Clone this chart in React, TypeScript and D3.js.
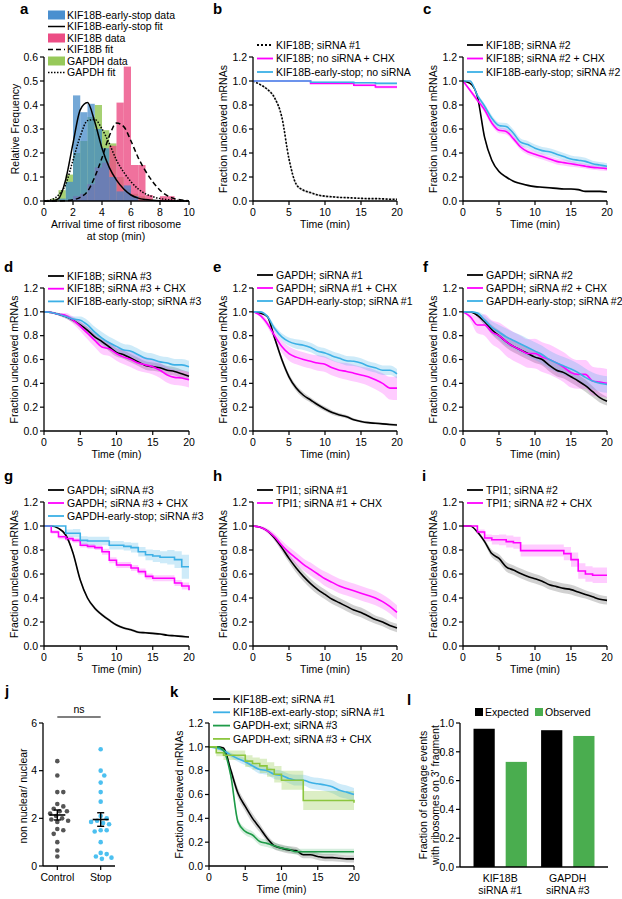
import React from 'react';
import * as d3 from 'd3';

const FONT = '"Liberation Sans", Arial, Helvetica, sans-serif';
const FS = 10.5;
const MAG = '#ff00ff';
const CY = '#3cb0e6';
const DKG = '#1e9b48';
const LTG = '#8cc63f';
const GRAYBAND = '#9a9a9a';

// ---------- panel a (histograms, bin width 0.5 min) ----------
const aBinStart = [0.5, 1.0, 1.5, 2.0, 2.5, 3.0, 3.5, 4.0, 4.5, 5.0, 5.5, 6.0, 6.5, 7.0, 7.5, 8.0, 8.5, 9.0];
const aEarlyStop = [0, 0.01, 0.08, 0.44, 0.37, 0.405, 0.3, 0.22, 0.1, 0.04, 0.065, 0.02, 0, 0, 0, 0, 0, 0];
const aGapdh = [0.01, 0.045, 0.11, 0.2, 0.25, 0.35, 0.4, 0.295, 0.24, 0.1, 0.05, 0.03, 0.02, 0.01, 0, 0, 0, 0];
const aKif = [0, 0, 0, 0.02, 0.03, 0.07, 0.14, 0.16, 0.23, 0.41, 0.56, 0.15, 0.15, 0.025, 0, 0.02, 0.02, 0];
const aFitT = [0, 0.5, 1, 1.5, 2, 2.5, 3, 3.5, 4, 4.5, 5, 5.5, 6, 6.5, 7, 7.5, 8, 8.5, 9, 9.5, 10];
const aFitEarly = [0, 0, 0.01, 0.09, 0.24, 0.38, 0.41, 0.33, 0.22, 0.14, 0.087, 0.05, 0.025, 0.012, 0.006, 0.003, 0.001, 0, 0, 0, 0];
const aFitKif = [0, 0, 0, 0.001, 0.005, 0.015, 0.04, 0.1, 0.18, 0.27, 0.325, 0.31, 0.25, 0.18, 0.125, 0.08, 0.045, 0.022, 0.01, 0.004, 0.001];
const aFitGapdh = [0, 0.005, 0.025, 0.07, 0.17, 0.27, 0.335, 0.34, 0.3, 0.24, 0.17, 0.12, 0.08, 0.05, 0.03, 0.018, 0.01, 0.006, 0.003, 0.001, 0];

// ---------- time grid for survival curves (min) ----------
const T = [0, 1, 2, 3, 4, 5, 6, 7, 8, 9, 10, 11, 12, 13, 14, 15, 16, 17, 18, 19, 20];

// b
const bKif1 = [1.0, 0.97, 0.93, 0.86, 0.7, 0.35, 0.14, 0.09, 0.07, 0.05, 0.04, 0.035, 0.03, 0.028, 0.025, 0.022, 0.02, 0.02, 0.018, 0.015, 0.015];
const bKif1Ci = [0, 0.005, 0.01, 0.015, 0.02, 0.02, 0.015, 0.01, 0.01, 0.008, 0.008, 0.006, 0.006, 0.006, 0.005, 0.005, 0.005, 0.005, 0.005, 0.005, 0.005];
const bChx = [1, 1, 1, 1, 1, 1, 1, 1, 0.98, 0.98, 0.98, 0.98, 0.98, 0.98, 0.965, 0.965, 0.965, 0.95, 0.95, 0.95, 0.95];
const bChxCi = [0, 0, 0, 0, 0, 0, 0, 0, 0.006, 0.006, 0.006, 0.006, 0.006, 0.006, 0.01, 0.01, 0.01, 0.012, 0.012, 0.012, 0.012];
const bStop = [1, 1, 1, 1, 1, 1, 1, 1, 0.99, 0.99, 0.99, 0.99, 0.99, 0.99, 0.985, 0.985, 0.985, 0.98, 0.98, 0.98, 0.98];
const bStopCi = [0, 0, 0, 0, 0, 0, 0, 0, 0.005, 0.005, 0.005, 0.005, 0.005, 0.005, 0.007, 0.007, 0.007, 0.008, 0.008, 0.008, 0.008];

// c
const cKif2 = [1.0, 0.98, 0.87, 0.53, 0.34, 0.245, 0.2, 0.165, 0.145, 0.13, 0.12, 0.115, 0.11, 0.105, 0.1, 0.1, 0.095, 0.08, 0.08, 0.08, 0.075];
const cKif2Ci = [0, 0.005, 0.01, 0.015, 0.012, 0.01, 0.01, 0.008, 0.008, 0.008, 0.008, 0.008, 0.008, 0.008, 0.008, 0.008, 0.008, 0.008, 0.008, 0.008, 0.008];
const cChx = [1.0, 0.92, 0.84, 0.76, 0.65, 0.59, 0.58, 0.52, 0.45, 0.41, 0.39, 0.37, 0.35, 0.33, 0.32, 0.31, 0.3, 0.29, 0.28, 0.275, 0.27];
const cChxCi = [0, 0.015, 0.02, 0.025, 0.025, 0.025, 0.025, 0.025, 0.025, 0.025, 0.025, 0.025, 0.025, 0.025, 0.025, 0.025, 0.02, 0.02, 0.02, 0.02, 0.02];
const cStop = [1.0, 1.0, 0.88, 0.79, 0.69, 0.63, 0.62, 0.565, 0.49, 0.47, 0.44, 0.42, 0.41, 0.39, 0.37, 0.35, 0.34, 0.33, 0.31, 0.3, 0.29];
const cStopCi = [0, 0, 0.015, 0.02, 0.025, 0.025, 0.03, 0.03, 0.03, 0.03, 0.03, 0.03, 0.03, 0.03, 0.03, 0.03, 0.03, 0.03, 0.025, 0.025, 0.025];

// d
const dKif3 = [1.0, 0.995, 0.98, 0.96, 0.93, 0.89, 0.845, 0.79, 0.75, 0.705, 0.66, 0.64, 0.61, 0.58, 0.55, 0.54, 0.53, 0.51, 0.5, 0.48, 0.46];
const dKif3Ci = [0, 0.005, 0.01, 0.015, 0.02, 0.025, 0.03, 0.03, 0.03, 0.035, 0.035, 0.035, 0.035, 0.035, 0.035, 0.035, 0.035, 0.035, 0.035, 0.035, 0.035];
const dChx = [1.0, 0.995, 0.98, 0.97, 0.93, 0.88, 0.82, 0.76, 0.705, 0.69, 0.65, 0.62, 0.6, 0.57, 0.555, 0.54, 0.51, 0.47, 0.45, 0.445, 0.43];
const dChxCi = [0, 0.005, 0.01, 0.02, 0.03, 0.04, 0.05, 0.055, 0.06, 0.06, 0.06, 0.06, 0.065, 0.065, 0.065, 0.065, 0.065, 0.065, 0.065, 0.065, 0.065];
const dStop = [1.0, 0.995, 0.98, 0.96, 0.94, 0.93, 0.89, 0.83, 0.78, 0.74, 0.71, 0.68, 0.67, 0.64, 0.61, 0.6, 0.58, 0.57, 0.555, 0.555, 0.54];
const dStopCi = [0, 0.005, 0.01, 0.015, 0.02, 0.03, 0.04, 0.045, 0.05, 0.05, 0.05, 0.05, 0.05, 0.05, 0.05, 0.05, 0.05, 0.05, 0.05, 0.05, 0.05];

// e
const eGap1 = [1.0, 0.99, 0.96, 0.78, 0.6, 0.455, 0.36, 0.3, 0.26, 0.22, 0.185, 0.155, 0.135, 0.12, 0.095, 0.08, 0.07, 0.065, 0.06, 0.055, 0.05];
const eGap1Ci = [0, 0.005, 0.01, 0.02, 0.025, 0.025, 0.025, 0.025, 0.022, 0.02, 0.02, 0.018, 0.016, 0.015, 0.012, 0.01, 0.01, 0.01, 0.01, 0.01, 0.01];
const eChx = [1.0, 0.97, 0.9, 0.8, 0.71, 0.65, 0.62, 0.6, 0.585, 0.57, 0.56, 0.53, 0.51, 0.5, 0.485, 0.47, 0.455, 0.43, 0.4, 0.36, 0.36];
const eChxCi = [0, 0.015, 0.03, 0.04, 0.05, 0.06, 0.06, 0.06, 0.06, 0.065, 0.065, 0.065, 0.065, 0.07, 0.07, 0.07, 0.075, 0.08, 0.085, 0.095, 0.1];
const eStop = [1.0, 1.0, 0.96, 0.86, 0.79, 0.75, 0.73, 0.72, 0.7, 0.67, 0.655, 0.63, 0.61, 0.59, 0.585, 0.57, 0.545, 0.53, 0.51, 0.51, 0.48];
const eStopCi = [0, 0, 0.015, 0.025, 0.03, 0.035, 0.04, 0.04, 0.04, 0.04, 0.04, 0.04, 0.04, 0.04, 0.04, 0.04, 0.04, 0.04, 0.04, 0.04, 0.04];

// f
const fGap2 = [1.0, 1.0, 0.97, 0.917, 0.85, 0.8, 0.75, 0.71, 0.68, 0.65, 0.62, 0.6, 0.55, 0.51, 0.49, 0.455, 0.42, 0.38, 0.33, 0.28, 0.25];
const fGap2Ci = [0, 0, 0.015, 0.03, 0.04, 0.045, 0.05, 0.05, 0.05, 0.05, 0.05, 0.05, 0.05, 0.05, 0.05, 0.05, 0.05, 0.05, 0.045, 0.04, 0.035];
const fChx = [1.0, 0.96, 0.89, 0.89, 0.83, 0.8, 0.75, 0.71, 0.68, 0.65, 0.65, 0.62, 0.6, 0.57, 0.535, 0.49, 0.475, 0.475, 0.42, 0.41, 0.4];
const fChxCi = [0, 0.03, 0.07, 0.09, 0.1, 0.11, 0.12, 0.12, 0.12, 0.12, 0.125, 0.125, 0.125, 0.125, 0.125, 0.125, 0.12, 0.12, 0.12, 0.12, 0.12];
const fStop = [1.0, 1.0, 0.99, 0.93, 0.87, 0.83, 0.79, 0.76, 0.73, 0.7, 0.67, 0.64, 0.6, 0.57, 0.545, 0.52, 0.49, 0.45, 0.42, 0.4, 0.39];
const fStopCi = [0, 0, 0.02, 0.04, 0.05, 0.06, 0.07, 0.07, 0.075, 0.075, 0.075, 0.075, 0.075, 0.075, 0.075, 0.075, 0.075, 0.075, 0.07, 0.07, 0.07];

// g
const gGap3 = [1.0, 1.0, 0.98, 0.925, 0.775, 0.55, 0.4, 0.315, 0.26, 0.215, 0.175, 0.15, 0.135, 0.115, 0.11, 0.105, 0.1, 0.09, 0.085, 0.08, 0.075];
const gGap3Ci = [0, 0, 0.005, 0.01, 0.015, 0.015, 0.015, 0.015, 0.012, 0.012, 0.01, 0.01, 0.01, 0.01, 0.008, 0.008, 0.008, 0.008, 0.008, 0.008, 0.008];
const gChx = [1.0, 0.95, 0.91, 0.895, 0.88, 0.84, 0.83, 0.82, 0.785, 0.715, 0.675, 0.675, 0.65, 0.62, 0.58, 0.565, 0.565, 0.565, 0.525, 0.5, 0.465];
const gChxCi = [0, 0.015, 0.02, 0.02, 0.02, 0.02, 0.02, 0.02, 0.025, 0.025, 0.025, 0.025, 0.025, 0.025, 0.025, 0.025, 0.025, 0.025, 0.025, 0.03, 0.03];
const gStop = [1.0, 1.0, 1.0, 0.94, 0.94, 0.88, 0.875, 0.875, 0.875, 0.84, 0.84, 0.83, 0.82, 0.785, 0.76, 0.75, 0.74, 0.74, 0.72, 0.66, 0.66];
const gStopCi = [0, 0, 0, 0.03, 0.035, 0.035, 0.035, 0.035, 0.035, 0.035, 0.035, 0.035, 0.04, 0.04, 0.045, 0.05, 0.05, 0.06, 0.07, 0.1, 0.1];

// h
const hTpi1 = [1.0, 0.99, 0.96, 0.9, 0.82, 0.73, 0.65, 0.58, 0.52, 0.47, 0.43, 0.39, 0.36, 0.33, 0.3, 0.28, 0.25, 0.22, 0.2, 0.17, 0.15];
const hTpi1Ci = [0, 0.005, 0.01, 0.02, 0.03, 0.035, 0.04, 0.04, 0.04, 0.04, 0.04, 0.04, 0.04, 0.04, 0.04, 0.04, 0.04, 0.035, 0.035, 0.035, 0.035];
const hChx = [1.0, 0.99, 0.96, 0.91, 0.84, 0.78, 0.73, 0.68, 0.64, 0.6, 0.56, 0.53, 0.5, 0.48, 0.46, 0.44, 0.42, 0.4, 0.37, 0.33, 0.28];
const hChxCi = [0, 0.01, 0.02, 0.03, 0.04, 0.045, 0.05, 0.05, 0.055, 0.055, 0.06, 0.06, 0.06, 0.06, 0.06, 0.06, 0.06, 0.06, 0.06, 0.06, 0.06];

// i
const iTpi2 = [1.0, 1.0, 0.95, 0.87, 0.77, 0.73, 0.66, 0.633, 0.605, 0.58, 0.56, 0.54, 0.51, 0.495, 0.48, 0.47, 0.45, 0.43, 0.41, 0.39, 0.38];
const iTpi2Ci = [0, 0, 0.01, 0.02, 0.03, 0.035, 0.04, 0.04, 0.04, 0.04, 0.04, 0.04, 0.04, 0.04, 0.04, 0.04, 0.04, 0.035, 0.035, 0.035, 0.035];
const iChx = [1.0, 1.0, 0.95, 0.9, 0.885, 0.885, 0.87, 0.86, 0.795, 0.795, 0.795, 0.795, 0.795, 0.795, 0.77, 0.72, 0.625, 0.6, 0.59, 0.59, 0.59];
const iChxCi = [0, 0, 0.02, 0.03, 0.04, 0.045, 0.05, 0.05, 0.05, 0.05, 0.05, 0.05, 0.05, 0.05, 0.055, 0.06, 0.065, 0.065, 0.065, 0.065, 0.065];

// k
const kKifExt = [1.0, 1.0, 0.99, 0.805, 0.61, 0.5, 0.4, 0.32, 0.235, 0.17, 0.15, 0.135, 0.13, 0.095, 0.095, 0.08, 0.07, 0.07, 0.065, 0.06, 0.06];
const kKifExtCi = [0, 0, 0.01, 0.03, 0.04, 0.04, 0.04, 0.035, 0.03, 0.03, 0.03, 0.03, 0.03, 0.03, 0.03, 0.03, 0.03, 0.03, 0.03, 0.03, 0.03];
const kKifStop = [1.0, 0.99, 0.97, 0.93, 0.9, 0.875, 0.84, 0.81, 0.8, 0.77, 0.76, 0.735, 0.72, 0.72, 0.7, 0.69, 0.68, 0.665, 0.635, 0.62, 0.6];
const kKifStopCi = [0, 0.01, 0.015, 0.02, 0.025, 0.03, 0.03, 0.035, 0.035, 0.04, 0.04, 0.04, 0.045, 0.045, 0.05, 0.05, 0.05, 0.055, 0.055, 0.055, 0.055];
const kGapExt = [1.0, 1.0, 0.97, 0.76, 0.37, 0.29, 0.26, 0.205, 0.19, 0.17, 0.15, 0.14, 0.12, 0.12, 0.12, 0.12, 0.12, 0.12, 0.12, 0.12, 0.12];
const kGapExtCi = [0, 0, 0.01, 0.03, 0.03, 0.03, 0.03, 0.03, 0.03, 0.03, 0.025, 0.025, 0.025, 0.025, 0.025, 0.025, 0.025, 0.025, 0.025, 0.025, 0.025];
const kGapChx = [1.0, 0.95, 0.93, 0.93, 0.93, 0.88, 0.86, 0.84, 0.81, 0.77, 0.72, 0.72, 0.72, 0.55, 0.55, 0.55, 0.55, 0.55, 0.55, 0.55, 0.53];
const kGapChxCi = [0, 0.03, 0.04, 0.04, 0.04, 0.05, 0.05, 0.06, 0.06, 0.07, 0.08, 0.08, 0.08, 0.08, 0.08, 0.08, 0.08, 0.08, 0.08, 0.08, 0.08];

// j
const jCategories = ['Control', 'Stop'];
const jControl = [4.4, 3.8, 3.1, 3.1, 2.6, 2.5, 2.4, 2.3, 2.3, 2.2, 2.1, 2.0, 1.95, 1.9, 1.85, 1.55, 1.5, 1.35, 1.0, 0.65, 0.4];
const jStop = [4.9, 4.0, 3.8, 3.5, 3.1, 2.7, 2.1, 2.0, 1.9, 1.85, 1.8, 1.75, 1.5, 1.5, 1.45, 1.0, 0.55, 0.5, 0.35, 0.3, 0.4];

// l
const lGroupLine1 = ['KIF18B', 'GAPDH'];
const lGroupLine2 = ['siRNA #1', 'siRNA #3'];
const lSeries = ['Expected', 'Observed'];
const lExpected = [0.96, 0.95];
const lObserved = [0.73, 0.91];

// ---------------- helpers ----------------
type Ser = { v: number[]; ci?: number[]; color: string; band?: string; bandOp?: number; dash?: string; step?: boolean };

const txt = { fontFamily: FONT, fontSize: FS, fill: '#000' } as const;

function YAxis({ scale, x, ticks, fmt }: any) {
  const [r0, r1] = scale.range();
  return (
    <g>
      <line x1={x} x2={x} y1={r0} y2={r1} stroke="#000" strokeWidth={1.3} />
      {ticks.map((t: number) => (
        <g key={t}>
          <line x1={x - 4} x2={x} y1={scale(t)} y2={scale(t)} stroke="#000" strokeWidth={1.2} />
          <text x={x - 6} y={scale(t)} dy="0.36em" textAnchor="end" style={txt}>{fmt(t)}</text>
        </g>
      ))}
    </g>
  );
}

function XAxis({ scale, y, ticks, fmt }: any) {
  const [r0, r1] = scale.range();
  return (
    <g>
      <line x1={r0} x2={r1} y1={y} y2={y} stroke="#000" strokeWidth={1.3} />
      {ticks.map((t: number) => (
        <g key={t}>
          <line x1={scale(t)} x2={scale(t)} y1={y} y2={y + 4} stroke="#000" strokeWidth={1.2} />
          <text x={scale(t)} y={y + 14.5} textAnchor="middle" style={txt}>{fmt(t)}</text>
        </g>
      ))}
    </g>
  );
}

function Letter({ x, y, c }: any) {
  return <text x={x} y={y} style={{ fontFamily: FONT, fontSize: 15, fontWeight: 700 }}>{c}</text>;
}

function LineLegend({ x, y, gap, items, sw = 16 }: any) {
  return (
    <g>
      {items.map((it: any, i: number) => (
        <g key={i}>
          <line x1={x} x2={x + sw} y1={y + i * gap} y2={y + i * gap} stroke={it.color} strokeWidth={1.8} strokeDasharray={it.dash} />
          <text x={x + sw + 3} y={y + i * gap} dy="0.36em" style={txt}>{it.label}</text>
        </g>
      ))}
    </g>
  );
}

function KM({ x0, x1, y0, y1, series, legend, lgX, lgY, lgGap, letter, ltX, ltY, sw }: any) {
  const x = d3.scaleLinear().domain([0, 20]).range([x0, x1]);
  const y = d3.scaleLinear().domain([0, 1.2]).range([y0, y1]);
  const fmt1 = d3.format('.1f');
  return (
    <g>
      <Letter x={ltX} y={ltY} c={letter} />
      <LineLegend x={lgX} y={lgY} gap={lgGap} items={legend} sw={sw} />
      {series.map((s: Ser, i: number) => {
        if (!s.ci) return null;
        const curve = s.step ? d3.curveStepAfter : d3.curveMonotoneX;
        const area = d3.area<number>()
          .x((_, k) => x(T[k]))
          .y0((d, k) => y(Math.max(0, d - s.ci![k])))
          .y1((d, k) => y(Math.min(1.0, d + s.ci![k])))
          .curve(curve);
        return <path key={'a' + i} d={area(s.v) || ''} fill={s.band} fillOpacity={s.bandOp ?? 0.3} stroke="none" />;
      })}
      {series.map((s: Ser, i: number) => {
        const curve = s.step ? d3.curveStepAfter : d3.curveMonotoneX;
        const line = d3.line<number>().x((_, k) => x(T[k])).y((d) => y(d)).curve(curve);
        return <path key={'l' + i} d={line(s.v) || ''} fill="none" stroke={s.color} strokeWidth={1.6} strokeDasharray={s.dash} />;
      })}
      <YAxis scale={y} x={x0} ticks={y.ticks(6)} fmt={fmt1} />
      <XAxis scale={x} y={y0} ticks={x.ticks(4)} fmt={d3.format('d')} />
      <text transform={`translate(${x0 - 26},${(y0 + y1) / 2}) rotate(-90)`} textAnchor="middle" style={txt}>Fraction uncleaved mRNAs</text>
      <text x={(x0 + x1) / 2} y={y0 + 27} textAnchor="middle" style={txt}>Time (min)</text>
    </g>
  );
}

const blk = (v: number[], ci: number[], dash?: string): Ser => ({ v, ci, color: '#000', band: GRAYBAND, bandOp: 0.45, dash });
const mag = (v: number[], ci: number[], step?: boolean): Ser => ({ v, ci, color: MAG, band: MAG, bandOp: 0.2, step });
const cy = (v: number[], ci: number[], step?: boolean): Ser => ({ v, ci, color: CY, band: CY, bandOp: 0.25, step });

function PanelA() {
  const x = d3.scaleLinear().domain([0, 10]).range([44, 189]);
  const y = d3.scaleLinear().domain([0, 0.6]).range([201, 57]);
  const bars = (vals: number[], color: string, op: number) =>
    vals.map((v, i) => v > 0 ? (
      <rect key={color + i} x={x(aBinStart[i])} width={x(aBinStart[i] + 0.5) - x(aBinStart[i])} y={y(v)} height={y(0) - y(v)} fill={color} fillOpacity={op} />
    ) : null);
  const fit = (vals: number[], dash?: string) => {
    const line = d3.line<number>().x((_, k) => x(aFitT[k])).y((d) => y(d)).curve(d3.curveMonotoneX);
    return <path d={line(vals) || ''} fill="none" stroke="#000" strokeWidth={1.5} strokeDasharray={dash} />;
  };
  const legendItems = [
    { label: 'KIF18B-early-stop data', kind: 'rect', color: '#4a8fcf' },
    { label: 'KIF18B-early-stop fit', kind: 'line' },
    { label: 'KIF18B data', kind: 'rect', color: '#ec4d85' },
    { label: 'KIF18B fit', kind: 'line', dash: '5,3' },
    { label: 'GAPDH data', kind: 'rect', color: '#97c95a' },
    { label: 'GAPDH fit', kind: 'line', dash: '1.5,1.5' },
  ];
  return (
    <g>
      <Letter x={20} y={14} c="a" />
      {legendItems.map((it, i) => {
        const yy = 15 + i * 11.5;
        return (
          <g key={i}>
            {it.kind === 'rect'
              ? <rect x={48} y={yy - 4.5} width={17} height={9} fill={it.color} />
              : <line x1={48} x2={65} y1={yy} y2={yy} stroke="#000" strokeWidth={1.5} strokeDasharray={it.dash} />}
            <text x={67} y={yy} dy="0.36em" style={txt}>{it.label}</text>
          </g>
        );
      })}
      {bars(aGapdh, '#97c95a', 0.85)}
      {bars(aKif, '#ec4d85', 0.8)}
      {bars(aEarlyStop, '#3f86c8', 0.72)}
      {fit(aFitEarly)}
      {fit(aFitKif, '5,3')}
      {fit(aFitGapdh, '1.5,1.5')}
      <YAxis scale={y} x={44} ticks={y.ticks(6)} fmt={d3.format('.1f')} />
      <XAxis scale={x} y={201} ticks={x.ticks(5)} fmt={d3.format('d')} />
      <text transform={`translate(${44 - 25},${129}) rotate(-90)`} textAnchor="middle" style={txt}>Relative Frequency</text>
      <text x={116} y={228} textAnchor="middle" style={txt}>Arrival time of first ribosome</text>
      <text x={116} y={240} textAnchor="middle" style={txt}>at stop (min)</text>
    </g>
  );
}

function swarm(vals: number[], ys: (v: number) => number, cx: number, r: number) {
  const pts = vals.map((v) => ({ v, y: ys(v), x: cx })).sort((a, b) => a.y - b.y);
  const placed: { v: number; y: number; x: number }[] = [];
  const minD = 2 * r + 0.8;
  for (const p of pts) {
    let off = 0;
    for (let k = 0; k < 60; k++) {
      const o = k === 0 ? 0 : (k % 2 === 1 ? 1 : -1) * Math.ceil(k / 2) * 1.2;
      const ok = placed.every((q) => Math.hypot(q.x - (cx + o), q.y - p.y) >= minD);
      if (ok) { off = o; break; }
    }
    placed.push({ ...p, x: cx + off });
  }
  return placed;
}

function PanelJ() {
  const y = d3.scaleLinear().domain([0, 6]).range([866, 723]);
  const x = d3.scalePoint<string>().domain(jCategories).range([43, 115]).padding(0.33);
  const groups = [jControl, jStop];
  const colors = ['#555555', '#4cc0f0'];
  return (
    <g>
      <Letter x={5} y={696} c="j" />
      {groups.map((g, gi) => {
        const cx = x(jCategories[gi])!;
        const pts = swarm(g, (v) => y(v), cx, 2.3);
        const m = d3.mean(g)!;
        const sem = d3.deviation(g)! / Math.sqrt(g.length);
        return (
          <g key={gi}>
            {pts.map((p, i) => <circle key={i} cx={p.x} cy={p.y} r={2.3} fill={colors[gi]} />)}
            <line x1={cx - 8} x2={cx + 8} y1={y(m)} y2={y(m)} stroke="#000" strokeWidth={1.6} />
            <line x1={cx} x2={cx} y1={y(m - sem)} y2={y(m + sem)} stroke="#000" strokeWidth={1.4} />
            <line x1={cx - 3.5} x2={cx + 3.5} y1={y(m - sem)} y2={y(m - sem)} stroke="#000" strokeWidth={1.4} />
            <line x1={cx - 3.5} x2={cx + 3.5} y1={y(m + sem)} y2={y(m + sem)} stroke="#000" strokeWidth={1.4} />
          </g>
        );
      })}
      <YAxis scale={y} x={43} ticks={y.ticks(3)} fmt={d3.format('d')} />
      <line x1={43} x2={115} y1={866} y2={866} stroke="#000" strokeWidth={1.3} />
      {jCategories.map((c) => (
        <g key={c}>
          <line x1={x(c)} x2={x(c)} y1={866} y2={870} stroke="#000" strokeWidth={1.2} />
          <text x={x(c)} y={881} textAnchor="middle" style={txt}>{c}</text>
        </g>
      ))}
      <line x1={x('Control')} x2={x('Stop')} y1={717} y2={717} stroke="#000" strokeWidth={1.2} />
      <text x={(x('Control')! + x('Stop')!) / 2} y={713} textAnchor="middle" style={txt}>ns</text>
      <text transform={`translate(${27},${796}) rotate(-90)`} textAnchor="middle" style={txt}>non nuclear/ nuclear</text>
    </g>
  );
}

function PanelL() {
  const y = d3.scaleLinear().domain([0, 1]).range([867, 723]);
  const x0 = d3.scaleBand<string>().domain(lGroupLine1).range([460, 608]).paddingInner(0.21).paddingOuter(0.2);
  const x1 = d3.scaleBand<string>().domain(lSeries).range([0, x0.bandwidth()]).paddingInner(0.34);
  const cols = ['#000000', '#4aad4f'];
  const vals = [lExpected, lObserved];
  return (
    <g>
      <Letter x={407} y={705} c="l" />
      {lSeries.map((s, si) => (
        <g key={s}>
          <rect x={si === 0 ? 475 : 535} y={708} width={8} height={8} fill={cols[si]} />
          <text x={si === 0 ? 485 : 545} y={712} dy="0.36em" style={txt}>{s}</text>
        </g>
      ))}
      {lGroupLine1.map((g, gi) => (
        <g key={g}>
          {lSeries.map((s, si) => (
            <rect key={s} x={x0(g)! + x1(s)!} width={x1.bandwidth()} y={y(vals[si][gi])} height={y(0) - y(vals[si][gi])} fill={cols[si]} />
          ))}
          <text x={x0(g)! + x0.bandwidth() / 2} y={882} textAnchor="middle" style={txt}>{g}</text>
          <text x={x0(g)! + x0.bandwidth() / 2} y={894} textAnchor="middle" style={txt}>{lGroupLine2[gi]}</text>
        </g>
      ))}
      <YAxis scale={y} x={460} ticks={y.ticks(5)} fmt={d3.format('.1f')} />
      <line x1={460} x2={608} y1={867} y2={867} stroke="#000" strokeWidth={1.3} />
      <text transform={`translate(${427},${795}) rotate(-90)`} textAnchor="middle" style={txt}>Fraction of cleavage events</text>
      <text transform={`translate(${439},${795}) rotate(-90)`} textAnchor="middle" style={txt}>with ribosomes on 3' fragment</text>
    </g>
  );
}

export default function App() {
  return (
    <svg width={622} height={899} style={{ position: 'absolute', left: 0, top: 0, background: '#fff' }}>
      <PanelA />
      <KM x0={253} x1={397} y0={201} y1={57} letter="b" ltX={213} ltY={14}
        lgX={257} lgY={45} lgGap={13.5}
        legend={[{ label: 'KIF18B; siRNA #1', color: '#000', dash: '2,2' }, { label: 'KIF18B; no siRNA + CHX', color: MAG }, { label: 'KIF18B-early-stop; no siRNA', color: CY }]}
        series={[blk(bKif1, bKif1Ci, '2,1.5'), mag(bChx, bChxCi, true), cy(bStop, bStopCi, true)]} />
      <KM x0={463} x1={607} y0={201} y1={57} letter="c" ltX={423} ltY={14}
        lgX={467} lgY={45} lgGap={13.5}
        legend={[{ label: 'KIF18B; siRNA #2', color: '#000' }, { label: 'KIF18B; siRNA #2 + CHX', color: MAG }, { label: 'KIF18B-early-stop; siRNA #2', color: CY }]}
        series={[blk(cKif2, cKif2Ci), mag(cChx, cChxCi), cy(cStop, cStopCi)]} />
      <KM x0={44} x1={189} y0={431} y1={288} letter="d" ltX={4} ltY={272}
        lgX={48} lgY={276} lgGap={12.7}
        legend={[{ label: 'KIF18B; siRNA #3', color: '#000' }, { label: 'KIF18B; siRNA #3 + CHX', color: MAG }, { label: 'KIF18B-early-stop; siRNA #3', color: CY }]}
        series={[blk(dKif3, dKif3Ci), mag(dChx, dChxCi), cy(dStop, dStopCi)]} />
      <KM x0={253} x1={397} y0={431} y1={288} letter="e" ltX={213} ltY={272}
        lgX={257} lgY={275} lgGap={13}
        legend={[{ label: 'GAPDH; siRNA #1', color: '#000' }, { label: 'GAPDH; siRNA #1 + CHX', color: MAG }, { label: 'GAPDH-early-stop; siRNA #1', color: CY }]}
        series={[blk(eGap1, eGap1Ci), mag(eChx, eChxCi), cy(eStop, eStopCi)]} />
      <KM x0={463} x1={607} y0={431} y1={288} letter="f" ltX={423} ltY={272}
        lgX={467} lgY={275} lgGap={13}
        legend={[{ label: 'GAPDH; siRNA #2', color: '#000' }, { label: 'GAPDH; siRNA #2 + CHX', color: MAG }, { label: 'GAPDH-early-stop; siRNA #2', color: CY }]}
        series={[blk(fGap2, fGap2Ci), mag(fChx, fChxCi), cy(fStop, fStopCi)]} />
      <KM x0={44} x1={189} y0={646} y1={502} letter="g" ltX={4} ltY={481}
        lgX={48} lgY={490} lgGap={13}
        legend={[{ label: 'GAPDH; siRNA #3', color: '#000' }, { label: 'GAPDH; siRNA #3 + CHX', color: MAG }, { label: 'GAPDH-early-stop; siRNA #3', color: CY }]}
        series={[blk(gGap3, gGap3Ci), mag(gChx, gChxCi, true), cy(gStop, gStopCi, true)]} />
      <KM x0={253} x1={397} y0={646} y1={502} letter="h" ltX={213} ltY={481}
        lgX={257} lgY={490} lgGap={13}
        legend={[{ label: 'TPI1; siRNA #1', color: '#000' }, { label: 'TPI1; siRNA #1 + CHX', color: MAG }]}
        series={[blk(hTpi1, hTpi1Ci), mag(hChx, hChxCi)]} />
      <KM x0={463} x1={607} y0={646} y1={502} letter="i" ltX={422} ltY={481}
        lgX={467} lgY={490} lgGap={13}
        legend={[{ label: 'TPI1; siRNA #2', color: '#000' }, { label: 'TPI1; siRNA #2 + CHX', color: MAG }]}
        series={[blk(iTpi2, iTpi2Ci), mag(iChx, iChxCi, true)]} />
      <PanelJ />
      <KM x0={209} x1={354} y0={866} y1={723} letter="k" ltX={170} ltY={697}
        lgX={213} lgY={699} lgGap={13.3} sw={17}
        legend={[{ label: 'KIF18B-ext; siRNA #1', color: '#000' }, { label: 'KIF18B-ext-early-stop; siRNA #1', color: CY }, { label: 'GAPDH-ext; siRNA #3', color: DKG }, { label: 'GAPDH-ext; siRNA #3 + CHX', color: LTG }]}
        series={[blk(kKifExt, kKifExtCi), cy(kKifStop, kKifStopCi), { v: kGapExt, ci: kGapExtCi, color: DKG, band: DKG, bandOp: 0.18 }, { v: kGapChx, ci: kGapChxCi, color: LTG, band: LTG, bandOp: 0.3, step: true }]} />
      <PanelL />
    </svg>
  );
}
